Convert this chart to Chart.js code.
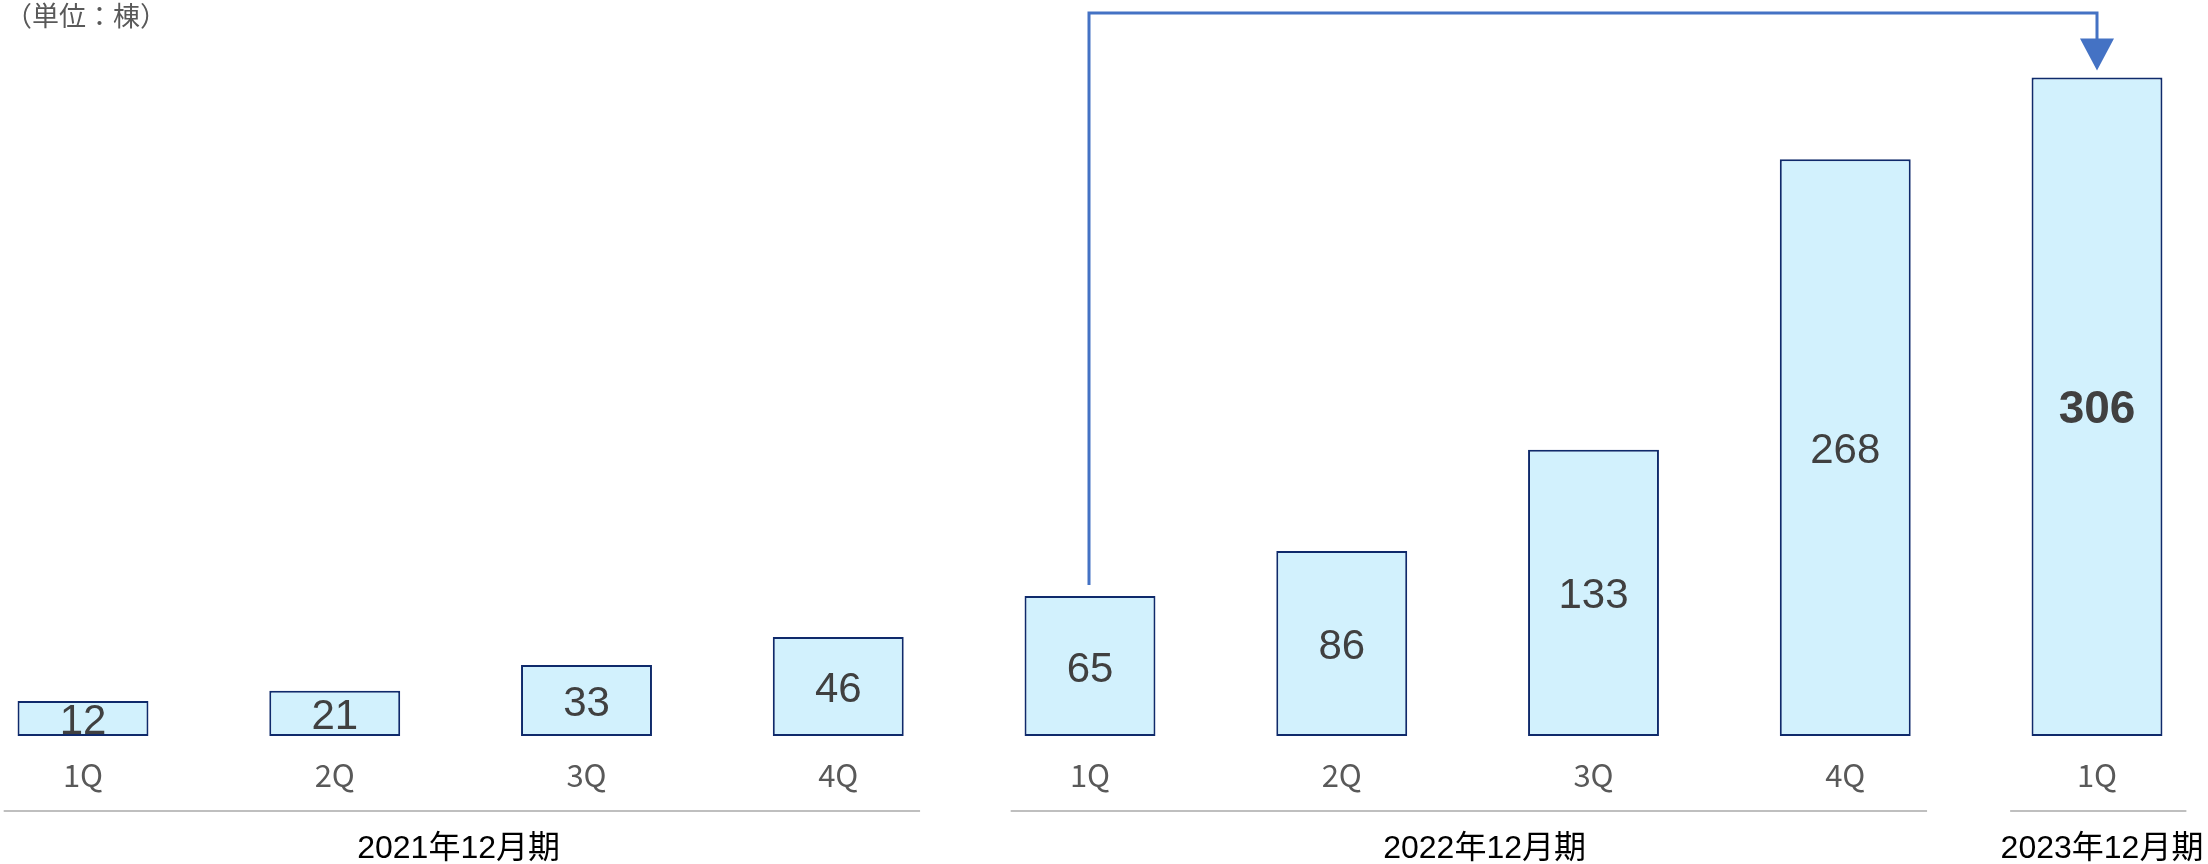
<!DOCTYPE html>
<html><head><meta charset="utf-8">
<script src="https://cdn.jsdelivr.net/npm/chart.js@4.4.0/dist/chart.umd.min.js"></script>
<style>html,body{margin:0;padding:0;background:#fff;}#wrap{width:2208px;height:864px;position:relative;}
#unit{position:absolute;left:5px;top:-5px;font-family:"Noto Sans CJK JP",sans-serif;font-size:27px;color:#595959;}</style>
</head><body><div id="wrap"><div id="unit">（単位：棟）</div><canvas id="c" width="2208" height="864"></canvas></div>
<script>
const quarterLabels = ['1Q','2Q','3Q','4Q','1Q','2Q','3Q','4Q','1Q'];
const buildingCounts = [12,21,33,46,65,86,133,268,306];
const groupLabels = ['2021年12月期','2022年12月期','2023年12月期'];
const groupSizes = [4,4,1];
const arrowFrom = 4, arrowTo = 8;

const overlay = {
  id:'overlay',
  afterDatasetsDraw(chart){
    const ctx = chart.ctx, x = chart.scales.x;
    const meta = chart.getDatasetMeta(0);
    ctx.save();
    ctx.textAlign='center'; ctx.textBaseline='middle';
    meta.data.forEach((bar,i)=>{
      const last = i===buildingCounts.length-1;
      ctx.font = (last?'bold 46px ':'42px ')+'"Liberation Sans", Arial, sans-serif';
      ctx.fillStyle='#404040';
      ctx.fillText(String(buildingCounts[i]), bar.x, (bar.y+bar.base)/2+4);
    });
    const step = x.getPixelForValue(1)-x.getPixelForValue(0);
    const labelShift = [-2, 17, 5];
    let idx=0;
    groupSizes.forEach((n,g)=>{
      const a = x.getPixelForValue(idx), b = x.getPixelForValue(idx+n-1);
      const l = a-step*(n>1?0.315:0.345), r = b+step*(n>1?0.325:0.355);
      ctx.strokeStyle='#bfbfbf'; ctx.lineWidth=2;
      ctx.beginPath(); ctx.moveTo(l,811); ctx.lineTo(r,811); ctx.stroke();
      ctx.font='32px "Liberation Sans","Noto Sans CJK JP",sans-serif';
      ctx.fillStyle='#000';
      ctx.fillText(groupLabels[g], (a+b)/2+labelShift[g], 849);
      idx+=n;
    });
    const p = meta.data[arrowFrom], q = meta.data[arrowTo];
    const topY = 13;
    ctx.strokeStyle='#4472C4'; ctx.fillStyle='#4472C4'; ctx.lineWidth=3;
    ctx.beginPath();
    ctx.moveTo(p.x-1, p.y-11); ctx.lineTo(p.x-1, topY); ctx.lineTo(q.x, topY); ctx.lineTo(q.x, q.y-38);
    ctx.stroke();
    ctx.beginPath();
    ctx.moveTo(q.x-17, q.y-39); ctx.lineTo(q.x+17, q.y-39); ctx.lineTo(q.x, q.y-7); ctx.closePath(); ctx.fill();
    ctx.restore();
  }
};

new Chart(document.getElementById('c'), {
  type:'bar',
  data:{labels:quarterLabels, datasets:[{data:buildingCounts, backgroundColor:'#D2F1FD', borderColor:'#0F2A6B', borderWidth:2, borderSkipped:false, barPercentage:0.52, categoryPercentage:1.0, minBarLength:35, clip:false}]},
  options:{
    responsive:false, animation:false, events:[],
    layout:{padding:{left:83, right:111, top:0, bottom:0}},
    plugins:{legend:{display:false}, tooltip:{enabled:false}},
    scales:{
      x:{offset:false, grid:{display:false, drawTicks:false}, border:{display:false},
         ticks:{padding:21, maxRotation:0, autoSkip:false, color:'#595959', font:{family:'"Noto Sans CJK JP", sans-serif', size:31}},
         afterFit(s){ s.height = 128; }},
      y:{display:false, min:0, max:342}
    }
  },
  plugins:[overlay]
});
</script></body></html>
